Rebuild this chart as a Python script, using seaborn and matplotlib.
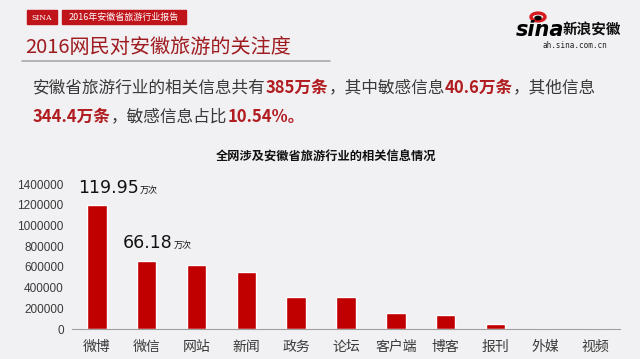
import matplotlib
matplotlib.use("Agg")
import matplotlib.pyplot as plt
import seaborn as sns
import pandas as pd
from matplotlib.patches import Rectangle, Circle

# data
channels = ["微博", "微信", "网站", "新闻", "政务", "论坛", "客户端", "博客", "报刊", "外媒", "视频"]
counts = [1199500, 661800, 620000, 556000, 310000, 310000, 155000, 133000, 48000, 3000, 500]
highlight_labels = ["119.95", "66.18"]
y_ticks = [0, 200000, 400000, 600000, 800000, 1000000, 1200000, 1400000]

bg = "#f1f0f2"
bar_red = "#c00000"
dark_red = "#9e1b1f"
text_gray = "#3a3a3a"

sns.set_theme(style="white")
plt.rcParams["font.family"] = ["Noto Sans CJK SC", "DejaVu Sans"]

W, H = 640, 359
fig = plt.figure(figsize=(6.4, 3.59), dpi=100)
fig.patch.set_facecolor(bg)


def px(x, y):
    # figure pixel (from top-left) -> figure fraction
    return x / W, 1 - y / H


# header boxes
for x0, x1, label, fs, fam in [(27, 57, "SINA", 5.5, "DejaVu Serif"),
                               (62, 186, "2016年安徽省旅游行业报告", 6.5, "Noto Sans CJK SC")]:
    fx, fy = px(x0, 24)
    fig.patches.append(Rectangle((fx, fy), (x1 - x0) / W, 14 / H, transform=fig.transFigure,
                                 color="#c0141b", zorder=1))
    fig.text(*px((x0 + x1) / 2, 17.5), label, color="white", fontsize=fs, ha="center",
             va="center", family=[fam, "DejaVu Sans"], weight="light")

fig.text(*px(25, 47), "2016网民对安徽旅游的关注度", color=dark_red, fontsize=14.5,
         ha="left", va="center", weight="light")
fig.add_artist(plt.Line2D([22 / W, 330 / W], [1 - 61 / H] * 2, color="#a8a8a8", lw=1.2,
                          transform=fig.transFigure))

# sina logo
fig.patches.append(Circle(px(538, 17), 7 / W, transform=fig.transFigure,
                          color="#d71920", fill=False, lw=2.4))
fig.patches.append(Circle(px(538, 18), 3 / W, transform=fig.transFigure, color="black"))
fig.text(*px(516, 30), "sina", fontsize=15, style="italic", weight="heavy",
         family="DejaVu Sans", ha="left", va="center", color="black")
fig.text(*px(563, 30), "新浪安徽", fontsize=10.5, style="italic", weight="bold",
         ha="left", va="center", color="#111111")
fig.text(*px(575, 46), "ah.sina.com.cn", fontsize=5.5, family="DejaVu Sans Mono",
         ha="center", va="center", color="#222222")

# summary paragraph with mixed colours
fig.canvas.draw()
renderer = fig.canvas.get_renderer()


def write_line(x, y, parts):
    for s, red in parts:
        t = fig.text(*px(x, y), s, fontsize=12, ha="left", va="center",
                     color="#b01c20" if red else text_gray,
                     weight="bold" if red else "normal")
        bb = t.get_window_extent(renderer)
        x += bb.width


write_line(33, 88, [("安徽省旅游行业的相关信息共有", False), ("385万条", True),
                    ("，其中敏感信息", False), ("40.6万条", True), ("，其他信息", False)])
write_line(33, 117, [("344.4万条", True), ("，敏感信息占比", False), ("10.54%。", True)])

# bar chart
ax = fig.add_axes([72 / W, 30 / H, 548 / W, (329 - 184.3) / H])
ax.set_facecolor(bg)
df = pd.DataFrame({"channel": channels, "count": counts})
sns.barplot(data=df, x="channel", y="count", color=bar_red, width=0.39,
            saturation=1, ax=ax)
ax.set_xlim(-0.5, len(channels) - 0.5)
ax.set_ylim(0, 1400000)
ax.set_yticks(y_ticks)
ax.set_yticklabels([str(v) for v in y_ticks], fontsize=8.5, color=text_gray,
                   family="Liberation Sans")
ax.tick_params(axis="x", which="major", length=0, labelsize=10, labelcolor=text_gray, pad=8)
ax.set_xticks([i - 0.5 for i in range(len(channels) + 1)], minor=True)
ax.tick_params(axis="x", which="minor", length=4, color="#a0a0a0", width=0.8)
ax.tick_params(axis="y", length=0, pad=6)
ax.set_xlabel("")
ax.set_ylabel("")
for side in ["top", "right", "left"]:
    ax.spines[side].set_visible(False)
ax.spines["bottom"].set_color("#a0a0a0")
ax.spines["bottom"].set_linewidth(0.8)

# value call-outs on the two biggest bars
for i, (lab, dx) in enumerate(zip(highlight_labels, [-13.5, -17])):
    t = ax.annotate(lab, (i, counts[i]), xytext=(dx, 6),
                    textcoords="offset points", fontsize=12.5, ha="left", va="bottom",
                    color="#111111", annotation_clip=False, family="DejaVu Sans")
    ax.annotate("万次", xy=(1, 0), xycoords=t, xytext=(0.5, 1.5),
                textcoords="offset points", fontsize=6.5, ha="left", va="bottom",
                color="#111111", annotation_clip=False)

fig.text(*px(326, 157), "全网涉及安徽省旅游行业的相关信息情况", fontsize=8.8, weight="bold",
         ha="center", va="center", color="#111111")

fig.savefig("out.png", dpi=100, facecolor=bg)
